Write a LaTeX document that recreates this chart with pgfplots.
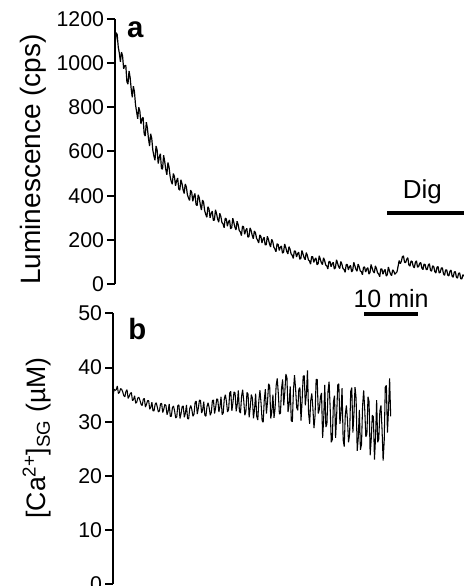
\documentclass[border=0pt]{standalone}
\usepackage{fontspec}
\setmainfont{Liberation Sans}
\usepackage{pgfplots}
\usepackage{pgfplotstable}
\pgfplotsset{compat=1.18}

% luminescence trace (time in min, cps)
\pgfplotstableread{
t v
0.0 1075
0.2 1138
0.4 1130
0.6 1074
0.8 1045
1.0 1006
1.2 1050
1.4 1033
1.6 975
1.8 989
2.0 990
2.2 916
2.4 905
2.6 965
2.8 935
3.0 883
3.2 845
3.4 896
3.6 870
3.8 811
4.0 780
4.2 748
4.4 800
4.6 783
4.8 725
5.0 747
5.2 755
5.4 680
5.6 670
5.8 733
6.0 705
6.2 658
6.4 625
6.6 680
6.8 660
7.0 606
7.2 580
7.4 560
7.6 625
7.8 606
8.0 545
8.2 575
8.4 590
8.6 523
8.8 520
9.0 583
9.2 555
9.4 518
9.6 495
9.8 550
10.0 530
10.2 488
10.4 465
10.6 452
10.8 500
11.0 487
11.2 445
11.4 467
11.6 480
11.8 430
12.0 425
12.2 472
12.4 455
12.6 427
12.8 410
13.0 453
13.2 440
13.4 405
13.6 390
13.8 378
14.0 425
14.2 415
14.4 375
14.6 397
14.8 410
15.0 360
15.2 355
15.4 404
15.6 390
15.8 357
16.0 335
16.2 380
16.4 370
16.6 332
16.8 315
17.0 302
17.2 350
17.4 340
17.6 300
17.8 320
18.0 330
18.2 288
18.4 290
18.6 336
18.8 318
19.0 294
19.2 280
19.4 320
19.6 305
19.8 278
20.0 272
20.2 255
20.4 298
20.6 295
20.8 262
21.0 281
21.2 290
21.4 250
21.6 255
21.8 298
22.0 278
22.2 257
22.4 245
22.6 284
22.8 268
23.0 242
23.2 236
23.4 219
23.6 262
23.8 259
24.0 225
24.2 243
24.4 252
24.6 212
24.8 215
25.0 254
25.2 242
25.4 220
25.6 205
25.8 240
26.0 232
26.2 207
26.4 198
26.6 186
26.8 222
27.0 216
27.2 186
27.4 203
27.6 212
27.8 177
28.0 178
28.2 216
28.4 202
28.6 181
28.8 168
29.0 202
29.2 192
29.4 167
29.6 158
29.8 146
30.0 182
30.2 179
30.4 152
30.6 166
30.8 172
31.0 140
31.2 144
31.4 181
31.6 166
31.8 147
32.0 136
32.2 169
32.4 158
32.6 136
32.8 130
33.0 116
33.2 150
33.4 148
33.6 122
33.8 137
34.0 144
34.2 112
34.4 116
34.6 152
34.8 136
35.0 119
35.2 110
35.4 142
35.6 130
35.8 109
36.0 104
36.2 90
36.4 124
36.6 123
36.8 98
37.0 112
37.2 118
37.4 87
37.6 92
37.8 128
38.0 112
38.2 96
38.4 88
38.6 119
38.8 106
39.0 86
39.2 82
39.4 68
39.6 102
39.8 102
40.0 78
40.2 92
40.4 98
40.6 68
40.8 74
41.0 110
41.2 94
41.4 78
41.6 70
41.8 102
42.0 90
42.2 70
42.4 66
42.6 53
42.8 88
43.0 88
43.2 64
43.4 78
43.6 84
43.8 55
44.0 62
44.2 98
44.4 82
44.6 66
44.8 58
45.0 90
45.2 78
45.4 59
45.6 56
45.8 42
46.0 76
46.2 77
46.4 54
46.6 68
46.8 74
47.0 45
47.2 52
47.4 88
47.6 72
47.8 57
48.0 50
48.2 82
48.4 70
48.6 50
48.8 46
49.0 33
49.2 68
49.4 68
49.6 44
49.8 59
50.0 66
50.2 36
50.4 42
50.6 77
50.8 60
51.0 45
51.2 38
51.4 64
51.6 58
51.8 44
52.0 50
52.2 55
52.4 80
52.6 106
52.8 92
53.0 102
53.2 124
53.4 127
53.6 98
53.8 97
54.0 112
54.2 119
54.4 86
54.6 81
54.8 104
55.0 102
55.2 80
55.4 73
55.6 98
55.8 105
56.0 76
56.2 79
56.4 94
56.6 97
56.8 72
57.0 65
57.2 90
57.4 88
57.6 66
57.8 66
58.0 86
58.2 92
58.4 62
58.6 58
58.8 82
59.0 79
59.2 56
59.4 50
59.6 76
59.8 79
60.0 50
60.2 53
60.4 72
60.6 73
60.8 46
61.0 39
61.2 64
61.4 64
61.6 40
61.8 37
62.0 58
62.2 63
62.4 36
62.6 31
62.8 54
63.0 56
63.2 30
63.4 27
63.6 48
63.8 50
64.0 24
64.2 23
64.4 42
64.6 36
}\lumtable

% [Ca2+]SG trace (time in min, uM)
\pgfplotstableread{
t v
0.0 34.6
0.2 36.0
0.4 35.8
0.6 35.9
0.8 36.6
1.0 35.2
1.2 35.4
1.4 36.1
1.6 36.0
1.8 35.5
2.0 34.8
2.2 34.6
2.4 35.6
2.6 35.9
2.8 34.3
3.0 34.7
3.2 35.2
3.4 35.4
3.6 33.9
3.8 34.1
4.0 34.8
4.2 33.4
4.4 33.6
4.6 34.4
4.8 34.5
5.0 33.9
5.2 33.2
5.4 33.0
5.6 34.1
5.8 34.3
6.0 32.7
6.2 33.2
6.4 33.9
6.6 33.9
6.8 32.3
7.0 32.7
7.2 33.6
7.4 32.0
7.6 32.0
7.8 33.2
8.0 33.5
8.2 32.7
8.4 31.8
8.6 32.0
8.8 33.3
9.0 33.4
9.2 31.7
9.4 32.3
9.6 33.2
9.8 33.0
10.0 31.3
10.2 31.9
10.4 33.3
10.6 31.0
10.8 31.0
11.0 32.6
11.2 32.9
11.4 32.0
11.6 30.7
11.8 30.9
12.0 33.0
12.2 33.1
12.4 30.6
12.6 31.5
12.8 32.8
13.0 32.9
13.2 30.8
13.4 31.6
13.6 33.1
13.8 30.6
14.0 30.5
14.2 32.4
14.4 33.0
14.6 32.2
14.8 31.0
15.0 31.4
15.2 33.6
15.4 33.8
15.6 31.4
15.8 32.5
16.0 34.0
16.2 33.9
16.4 31.6
16.6 32.2
16.8 33.7
17.0 31.2
17.2 31.0
17.4 32.8
17.6 33.5
17.8 32.6
18.0 31.2
18.2 31.7
18.4 33.9
18.6 34.0
18.8 31.5
19.0 32.6
19.2 34.2
19.4 34.1
19.6 31.8
19.8 32.8
20.0 34.6
20.2 31.3
20.4 31.6
20.6 34.2
20.8 35.0
21.0 33.7
21.2 31.8
21.4 32.2
21.6 35.3
21.8 35.6
22.0 32.0
22.2 33.5
22.4 35.5
22.6 35.3
22.8 31.9
23.0 33.2
23.2 35.8
23.4 31.9
23.6 31.6
23.8 34.7
24.0 35.9
24.2 33.9
24.4 31.2
24.6 31.9
24.8 35.4
25.0 35.1
25.2 30.8
25.4 32.6
25.6 35.0
25.8 34.4
26.0 30.6
26.2 32.3
26.4 35.2
26.6 31.0
26.8 30.3
27.0 33.9
27.2 35.8
27.4 33.5
27.6 30.2
27.8 29.9
28.0 34.0
28.2 36.0
28.4 31.5
28.6 33.7
28.8 37.0
29.0 36.6
29.2 30.6
29.4 31.8
29.6 35.0
29.8 30.7
30.0 32.4
30.2 36.7
30.4 38.0
30.6 35.2
30.8 31.4
31.0 31.6
31.2 36.2
31.4 37.8
31.6 33.0
31.8 35.4
32.0 38.8
32.2 38.1
32.4 31.8
32.6 33.2
32.8 36.5
33.0 30.2
33.2 30.0
33.4 35.8
33.6 38.6
33.8 36.1
34.0 32.6
34.2 32.1
34.4 36.0
34.6 36.3
34.8 30.2
35.0 33.8
35.2 38.4
35.4 38.5
35.6 33.0
35.8 35.2
36.0 39.5
36.2 31.6
36.4 29.6
36.6 33.9
36.8 35.2
37.0 32.5
37.2 28.8
37.4 31.1
37.6 37.8
37.8 37.8
38.0 31.5
38.2 32.3
38.4 34.6
38.6 35.3
38.8 27.0
39.0 30.5
39.2 36.8
39.4 29.0
39.6 29.6
39.8 35.6
40.0 37.4
40.2 32.5
40.4 26.2
40.6 26.7
40.8 33.6
41.0 34.8
41.2 27.0
41.4 31.2
41.6 36.8
41.8 37.0
42.0 29.6
42.2 31.5
42.4 36.2
42.6 26.6
42.8 25.4
43.0 31.3
43.2 33.0
43.4 30.3
43.6 26.2
43.8 27.7
44.0 35.6
44.2 36.3
44.4 28.0
44.6 31.5
44.8 36.4
45.0 34.3
45.2 24.6
45.4 27.0
45.6 32.2
45.8 24.8
46.0 25.8
46.2 32.9
46.4 35.8
46.6 32.2
46.8 27.2
47.0 27.7
47.2 34.6
47.4 33.7
47.6 23.8
47.8 26.8
48.0 31.2
48.2 30.9
48.4 23.0
48.6 27.1
48.8 34.0
49.0 26.2
49.2 26.8
49.4 32.0
49.6 33.0
49.8 28.6
50.0 22.8
50.2 26.4
50.4 36.4
50.6 36.7
50.8 28.0
51.0 32.3
51.2 38.0
51.4 31.0
}\catable

\pgfplotsset{
  trace/.style={
    scale only axis, width=261.75pt,
    xmin=0, xmax=64.6,
    axis x line=none, axis y line*=left,
    axis line style={line width=1.5pt},
    tick align=outside, major tick length=6pt,
    every tick/.style={line width=1.5pt, black},
    yticklabel style={font=\fontsize{16}{18}\selectfont, inner sep=2pt},
    /pgf/number format/assume math mode=true,
    /pgf/number format/set thousands separator={},
    ylabel style={font=\fontsize{20}{22}\selectfont, anchor=center},
    clip=false,
  },
}

\begin{document}
\begin{tikzpicture}
\begin{axis}[trace,
    at={(86.25pt,226.5pt)}, anchor=south west,
    height=198.75pt,
    ymin=0, ymax=1200, ytick={0,200,...,1200},
    ylabel={Luminescence (cps)},
    ylabel style={at={(axis description cs:-0.235,0.47)},
                  font=\fontsize{21}{23}\selectfont},
  ]
  \addplot[black, line width=0.9pt, line join=bevel] table[x=t, y=v] {\lumtable};
  % Dig bar and 10 min scale bar
  \addplot[black, line width=3pt] coordinates {(50.4,321) (64.6,321)};
  \addplot[black, line width=3pt] coordinates {(46.1,-135) (56.1,-135)};
  \node[anchor=base, font=\fontsize{19.5}{21}\selectfont, inner sep=0pt]
    at (axis cs:56.9,388) {Dig};
  \node[anchor=base, font=\fontsize{18.75}{20}\selectfont, inner sep=0pt]
    at (axis cs:51.1,-106) {10 min};
  \node[anchor=base west, font=\bfseries\fontsize{22}{24}\selectfont, inner sep=0pt]
    at (axis cs:2.2,1114) {a};
\end{axis}

\begin{axis}[trace,
    at={(84.75pt,1.5pt)}, anchor=south west,
    height=202.9pt,
    ymin=0, ymax=50, ytick={0,10,...,50},
    ylabel={[Ca\textsuperscript{2+}]\textsubscript{SG} (µM)},
    ylabel style={at={(axis description cs:-0.218,0.54)}},
  ]
  \addplot[black, line width=0.8pt, line join=bevel] table[x=t, y=v] {\catable};
  \node[anchor=base west, font=\bfseries\fontsize{22}{24}\selectfont, inner sep=0pt]
    at (axis cs:2.8,45.2) {b};
\end{axis}

\pgfresetboundingbox
\path[use as bounding box] (0,0) rectangle (348pt,439.5pt);
\end{tikzpicture}
\end{document}
